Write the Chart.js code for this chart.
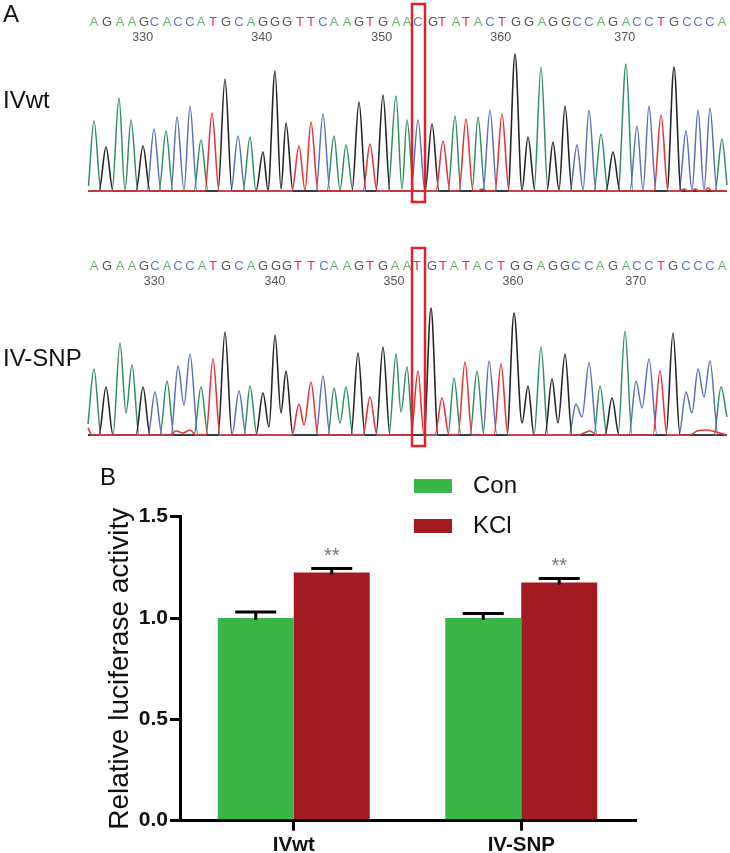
<!DOCTYPE html>
<html>
<head>
<meta charset="utf-8">
<script src="https://cdn.jsdelivr.net/npm/chart.js@4/dist/chart.umd.js"></script>
<style>
body { margin: 0; background: #fff; }
canvas { position: absolute; left: 0; filter: blur(0.35px); }
</style>
</head>
<body>
<canvas id="traceTop" width="730" height="215" style="top:0"></canvas>
<canvas id="traceBottom" width="730" height="215" style="top:240px"></canvas>
<canvas id="bars" width="730" height="403" style="top:450px"></canvas>
<script>
// sequence reads
var topBases = "AGAAGCACCATGCAGGGTTCAAGTGAACGTATACTGGAGGCCAGACCTGCCCA".split("");
var bottomBases = "AGAAGCACCATGCAGGGTTCAAGTGAATGTATACTGGAGGCCAGACCTGCCCA".split("");
var topBaseX = [94,107,120,132,144,154.5,167,178,190,201,213,226,239,251,263,275,287,300,311,323,334,347,359,370,383,396,407,418,433,442,456,466,478,490,502,516,529,542,553,566,577,589,601,613,626,637,649,661,674,687,698,710,722];
var bottomBaseX = [94,107,120,132,144,155,167,178,190,202,213,226,239,251,263,276,287,298,311,324,334,347,359,370,383,395,407,417,432,443,454,466,477,489,501,515,528,541,553,565,576,589,600,613,626,637,649,661,673,686,698,710,722];
var topTicks = [[330,142.7],[340,261.7],[350,381.7],[360,500.7],[370,624.7]];
var bottomTicks = [[330,154.3],[340,275],[350,394],[360,513],[370,635.7]];

// chromatogram traces, [scan, signal]
var topA = [[88.5,6],[94,71],[101,1],[112,1],[119,94],[125,2],[131,72],[138,1],[159,1],[166,61],[173,1],[194,1],[201,52],[208,1],[243,1],[250,55],[256,1],[327,1],[334,56],[340,2],[346,47],[353,1],[388,1],[396,96],[402,3],[407,72],[414,1],[448,1],[455,76],[461,1],[472,1],[478,75],[485,1],[534,1],[541,125],[548,1],[594,1],[601,58],[608,1],[618,1],[626,128],[633,1],[715,1],[722,53],[727,7]];
var topG = [[88,1],[99,1],[106,45],[113,1],[136,1],[143,46],[150,1],[218,1],[225,113],[232,1],[256,1],[263,40],[268,2],[275,121],[281,3],[286,69],[293,1],[352,1],[359,90],[366,1],[376,1],[383,97],[390,1],[425,1],[432,68],[439,1],[508,1],[515,138],[522,2],[528,55],[535,1],[547,1],[553,50],[559,2],[565,86],[572,1],[606,1],[613,40],[620,1],[667,1],[674,125],[681,1],[727,1]];
var topC = [[88,1],[147,1],[154,63],[161,1],[171,1],[177,75],[184,2],[190,86],[197,1],[231,1],[238,56],[245,1],[316,1],[323,78],[330,1],[411,1],[418,72],[425,1],[483,1],[490,82],[497,1],[570,1],[577,47],[583,2],[589,82],[596,1],[630,1],[637,66],[643,2],[649,86],[656,1],[679,1],[686,61],[692,2],[698,82],[704,2],[710,84],[717,1],[727,1]];
var topT = [[88,1],[205,1],[212,79],[219,1],[292,1],[299,46],[305,2],[311,70],[318,1],[363,1],[370,48],[377,1],[436,1],[443,51],[450,1],[459,1],[466,73],[473,1],[478,1],[482,3],[487,1],[495,1],[502,78],[509,1],[654,1],[661,77],[668,1],[680,1],[684,3],[688,1],[692,1],[695,3],[699,1],[705,1],[708,4],[712,1],[727,1]];

var bottomA = [[88,12],[94,67],[101,1],[113,1],[120,93],[126,23],[132,71],[139,1],[160,1],[167,55],[174,1],[194,1],[201,49],[208,1],[244,1],[250,50],[257,1],[328,1],[334,48],[340,13],[346,49],[353,1],[389,1],[396,82],[401,24],[407,69],[413,1],[448,1],[454,58],[461,1],[470,1],[477,65],[484,1],[534,1],[541,89],[548,1],[594,1],[600,50],[607,1],[618,1],[625,105],[632,1],[714,1],[721,49],[727,19]];
var bottomG = [[88,1],[99,1],[106,49],[113,1],[136,1],[143,49],[150,1],[218,1],[225,104],[232,1],[256,1],[263,43],[269,9],[275,101],[281,23],[286,65],[293,1],[351,1],[358,83],[365,1],[376,1],[383,89],[390,1],[424,1],[431,128],[438,1],[507,1],[514,123],[522,13],[528,50],[534,1],[545,1],[552,57],[558,13],[565,82],[572,1],[605,1],[612,38],[619,1],[666,1],[673,103],[680,1],[727,1]];
var bottomC = [[88,1],[148,1],[155,44],[162,1],[171,1],[178,70],[184,31],[190,82],[198,1],[232,1],[239,45],[246,1],[316,1],[323,60],[330,1],[483,1],[489,75],[497,1],[569,1],[576,32],[582,19],[589,73],[597,1],[629,1],[636,55],[642,28],[649,77],[657,1],[679,1],[686,44],[692,23],[698,67],[704,39],[710,75],[718,1],[727,1]];
var bottomT = [[88,8],[92,1],[170,1],[176,5],[183,3],[190,6],[196,1],[206,1],[213,77],[220,1],[292,1],[299,32],[304,11],[311,54],[318,1],[363,1],[370,39],[377,1],[411,1],[418,65],[424,1],[435,1],[442,38],[449,1],[458,1],[465,74],[472,1],[494,1],[501,72],[508,1],[578,1],[590,5],[597,1],[653,1],[660,65],[667,1],[690,1],[697,5],[706,6],[716,4],[727,1]];

// bar values
var groups = ["IVwt", "IV-SNP"];
var conValues = [1.0, 1.0];
var kclValues = [1.225, 1.175];
var conErrors = [0.03, 0.022];
var kclErrors = [0.02, 0.02];
var kclStars = ["**", "**"];
var yTicks = [0, 0.5, 1.0, 1.5];

var baseColors = { A: "#6cb26e", G: "#555555", C: "#5c78c6", T: "#e2323f" };
var FONT = '"Liberation Sans", Arial, sans-serif';

var tracePlugin = {
    id: "traceText",
    afterDraw: function (chart) {
        var o = chart.options.plugins.traceText;
        var ctx = chart.ctx, x = chart.scales.x, y = chart.scales.y;
        ctx.save();
        ctx.textAlign = "center";
        ctx.textBaseline = "middle";
        ctx.font = "13px " + FONT;
        o.bases.forEach(function (b, i) {
            ctx.fillStyle = baseColors[b];
            ctx.fillText(b, x.getPixelForValue(o.baseX[i]), y.getPixelForValue(170));
        });
        ctx.font = "12.5px " + FONT;
        ctx.fillStyle = "#555";
        o.ticks.forEach(function (t) {
            ctx.fillText(t[0], x.getPixelForValue(t[1]), y.getPixelForValue(154));
        });
        // SNP box
        ctx.strokeStyle = "#e3202c";
        ctx.lineWidth = 2.5;
        var bx = x.getPixelForValue(412), bw = x.getPixelForValue(425) - bx;
        var by = y.getPixelForValue(188), bh = y.getPixelForValue(-10) - by;
        ctx.strokeRect(bx, by, bw, bh);
        // panel labels
        ctx.textAlign = "left";
        ctx.fillStyle = "#111";
        ctx.font = "24px " + FONT;
        o.labels.forEach(function (l) {
            ctx.fillText(l[0], l[1], l[2]);
        });
        ctx.restore();
    }
};

function makeTrace(id, a, g, c, t, bases, baseX, ticks, labels, zeroPx) {
    function ds(points, color, width) {
        return { data: points, borderColor: color, borderWidth: width, pointRadius: 0, cubicInterpolationMode: "monotone", fill: false };
    }
    return new Chart(document.getElementById(id), {
        type: "line",
        data: {
            datasets: [ds(t, "#e8353c", 1.6), ds(g, "#262626", 1.6), ds(c, "#5a70b8", 1.5), ds(a, "#2f8f62", 1.5)]
        },
        options: {
            responsive: false,
            animation: false,
            layout: { padding: 0 },
            scales: {
                x: { type: "linear", display: false, min: 0, max: 730 },
                y: { display: false, min: zeroPx - 215, max: zeroPx }
            },
            plugins: {
                legend: { display: false },
                tooltip: { enabled: false },
                traceText: { bases: bases, baseX: baseX, ticks: ticks, labels: labels }
            }
        },
        plugins: [tracePlugin]
    });
}

makeTrace("traceTop", topA, topG, topC, topT, topBases, topBaseX, topTicks, [["A", 3, 15], ["IVwt", 3, 101]], 192);
makeTrace("traceBottom", bottomA, bottomG, bottomC, bottomT, bottomBases, bottomBaseX, bottomTicks, [["IV-SNP", 3, 119]], 196);

var errorPlugin = {
    id: "errorBars",
    afterDatasetsDraw: function (chart) {
        var ctx = chart.ctx, y = chart.scales.y;
        ctx.save();
        ctx.strokeStyle = "#000";
        ctx.lineWidth = 3;
        chart.data.datasets.forEach(function (d, i) {
            chart.getDatasetMeta(i).data.forEach(function (bar, j) {
                var top = y.getPixelForValue(d.data[j] + d.errors[j]);
                ctx.beginPath();
                ctx.moveTo(bar.x, y.getPixelForValue(d.data[j]) + 2);
                ctx.lineTo(bar.x, top);
                ctx.moveTo(bar.x - 20.5, top);
                ctx.lineTo(bar.x + 20.5, top);
                ctx.stroke();
                if (d.stars) {
                    ctx.fillStyle = "#777";
                    ctx.font = "20px " + FONT;
                    ctx.textAlign = "center";
                    ctx.textBaseline = "middle";
                    ctx.fillText(d.stars[j], bar.x, top - 12);
                }
            });
        });
        // legend and panel letter
        ctx.textBaseline = "middle";
        ctx.textAlign = "left";
        chart.data.datasets.forEach(function (d, i) {
            var ly = 36 + i * 40;
            ctx.fillStyle = d.backgroundColor;
            ctx.fillRect(414, ly - 7, 38, 14);
            ctx.fillStyle = "#111";
            ctx.font = "24px " + FONT;
            ctx.fillText(d.label, 473, ly);
        });
        ctx.font = "24px " + FONT;
        ctx.fillText("B", 100, 28);
        ctx.restore();
    }
};

new Chart(document.getElementById("bars"), {
    type: "bar",
    data: {
        labels: groups,
        datasets: [
            { label: "Con", data: conValues, errors: conErrors, backgroundColor: "#39b54a", barPercentage: 1, categoryPercentage: 0.668 },
            { label: "KCl", data: kclValues, errors: kclErrors, stars: kclStars, backgroundColor: "#a11b21", barPercentage: 1, categoryPercentage: 0.668 }
        ]
    },
    options: {
        responsive: false,
        animation: false,
        layout: { padding: { top: 66.7, right: 95, left: 0, bottom: 0 } },
        scales: {
            x: {
                afterFit: function (s) { s.height = 32.3; },
                border: { color: "#000", width: 3 },
                grid: { offset: false, drawOnChartArea: false, color: "#000", lineWidth: 3, tickLength: 10 },
                ticks: { color: "#111", padding: 2, font: { family: FONT, size: 20.5, weight: "bold" } }
            },
            y: {
                min: 0,
                max: 1.5,
                afterFit: function (s) { s.width = 180; },
                afterBuildTicks: function (s) { s.ticks = yTicks.map(function (v) { return { value: v }; }); },
                border: { color: "#000", width: 3 },
                grid: { drawOnChartArea: false, color: "#000", lineWidth: 3, tickLength: 10 },
                ticks: {
                    color: "#111",
                    padding: 2,
                    font: { family: FONT, size: 21, weight: "bold" },
                    callback: function (v) { return v.toFixed(1); }
                },
                title: {
                    display: true,
                    text: "Relative luciferase activity",
                    color: "#111",
                    font: { family: FONT, size: 28 },
                    padding: { top: 103, bottom: 0 }
                }
            }
        },
        plugins: {
            legend: { display: false },
            tooltip: { enabled: false }
        }
    },
    plugins: [errorPlugin]
});
</script>
</body>
</html>
